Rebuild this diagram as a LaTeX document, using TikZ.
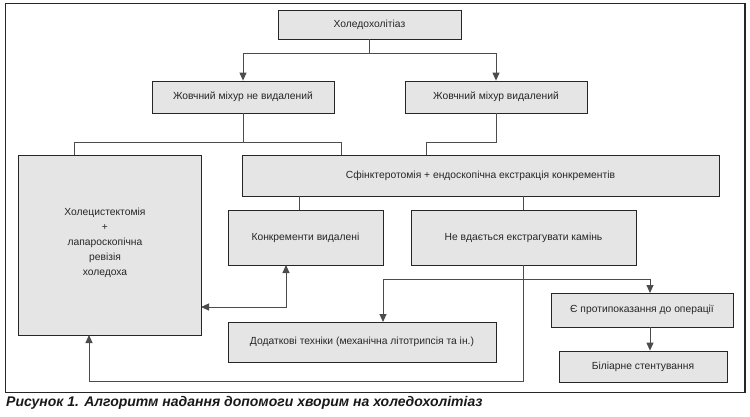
\documentclass[tikz,border=0pt]{standalone}
\usepackage{fontspec}
\setmainfont{Liberation Sans}
\usetikzlibrary{arrows.meta,positioning,calc}

\begin{document}
\begin{tikzpicture}[x=1pt,y=-1pt,
    algbox/.style={draw=black!85,fill=black!10,line width=0.8pt,align=center,
        font=\fontsize{10.3}{15}\selectfont,text=black!85,inner sep=0pt},
    algline/.style={draw=black!70,line width=0.9pt},
    algarrow/.style={algline,-{Triangle[length=8pt,width=7pt]}},
    algboth/.style={algline,{Triangle[length=8pt,width=7pt]}-{Triangle[length=8pt,width=7pt]}},
    algcaption/.style={anchor=west,inner sep=0pt,text=black!90,
        font=\fontsize{14}{16}\selectfont\bfseries\itshape}
]
\useasboundingbox (0,0) rectangle (750,416);
\draw[line width=1.2pt,black!85] (5.5,3.5) rectangle (745,392.5);
\node[algbox,minimum width=183pt,minimum height=29pt] (disease) at (369.5,24.5)
    {Холедохолітіаз};
\node[algbox,minimum width=182pt,minimum height=32pt] (notremoved) at (243,97)
    {Жовчний міхур не видалений};
\node[algbox,minimum width=182pt,minimum height=32pt] (removed) at (496,97)
    {Жовчний міхур видалений};
\node[algbox,minimum width=183pt,minimum height=180pt] (chole) at (109.5,245) {};
\node[align=center,font=\fontsize{10.3}{15}\selectfont,text=black!85] (choletext) at (105,243)
    {Холецистектомія\\+\\лапароскопічна\\ревізія\\холедоха};
\node[algbox,minimum width=477pt,minimum height=41pt] (sphinc) at (480.5,175.5)
    {Сфінктеротомія + ендоскопічна екстракція конкрементів};
\node[algbox,minimum width=155pt,minimum height=55pt] (stones) at (305.5,237.5)
    {Конкременти видалені};
\node[algbox,minimum width=225pt,minimum height=55pt] (fail) at (523.5,237.5)
    {Не вдається екстрагувати камінь};
\node[algbox,minimum width=268pt,minimum height=40pt] (extra) at (362,342)
    {Додаткові техніки (механічна літотрипсія та ін.)};
\node[algbox,minimum width=182pt,minimum height=34pt] (contra) at (642,310)
    {Є протипоказання до операції};
\node[algbox,minimum width=168pt,minimum height=31pt] (stent) at (643,366.5)
    {Біліарне стентування};
\node[algcaption] (caption) at (6,403)
    {Рисунок 1. Алгоритм надання допомоги хворим на холедохолітіаз};
\coordinate (cholein) at (74,155);
\coordinate (sphincinl) at (341,155);
\coordinate (sphincinr) at (426,155);
\coordinate (stonesin) at (299,196);
\coordinate (stonesout) at (286,265);
\coordinate (choleside) at (201,307);
\coordinate (cholebottom) at (89,335);
\coordinate (extrain) at (383,322);
\coordinate (contrain) at (650,293);
\draw[algarrow] (disease.south)--++(0,14)-|(notremoved.north);
\draw[algarrow] (disease.south)--++(0,14)-|(removed.north);
\draw[algline] (notremoved.south)--++(0,29)-|(cholein);
\draw[algline] (notremoved.south)--++(0,29)-|(sphincinl);
\draw[algline] (removed.south)--++(0,29)-|(sphincinr);
\draw[algline] (stonesin)--(stonesin |- stones.north);
\draw[algline] (fail.north |- sphinc.south)--(fail.north);
\draw[algboth] (stonesout)|-(choleside);
\draw[algarrow] (fail.south)--++(0,116)-|(cholebottom);
\draw[algarrow] (fail.south)--++(0,14)-|(extrain);
\draw[algarrow] (fail.south)--++(0,14)-|(contrain);
\draw[algarrow] (contrain |- contra.south)--(contrain |- stent.north);
\end{tikzpicture}
\end{document}
